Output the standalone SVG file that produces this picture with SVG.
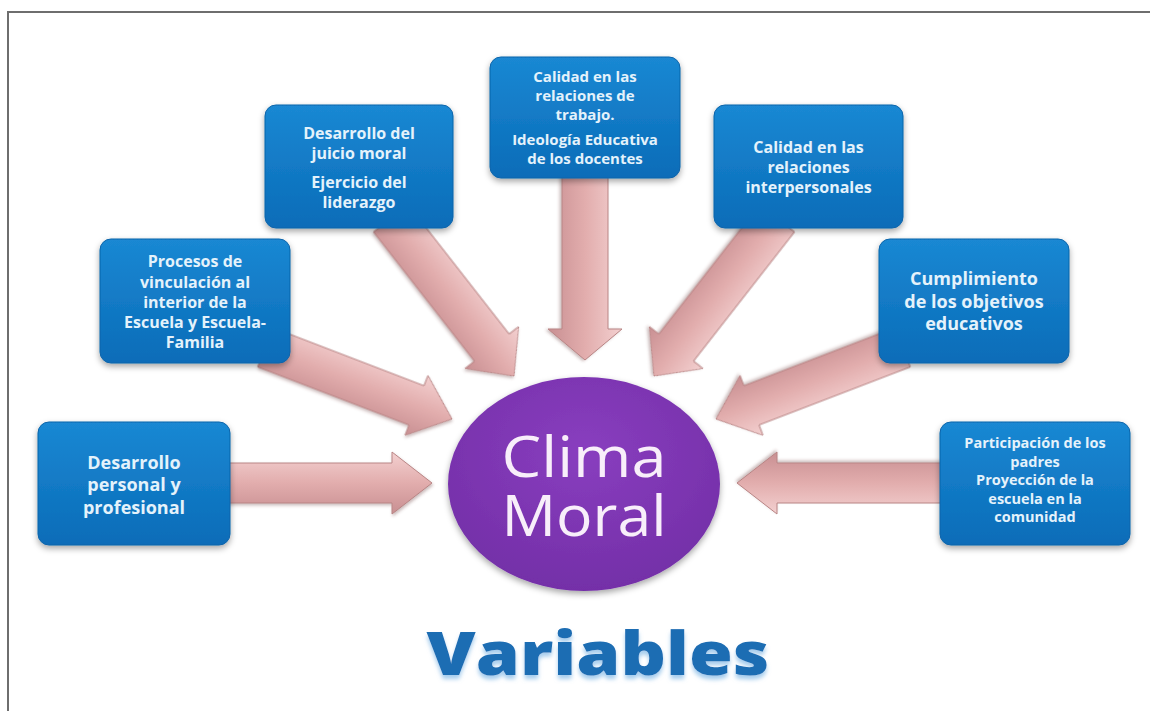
<svg xmlns="http://www.w3.org/2000/svg" width="1150" height="711" viewBox="0 0 1150 711">
  <defs>
    <linearGradient id="gBox" x1="0" y1="0" x2="0" y2="1">
      <stop offset="0" stop-color="#1a88d3"/>
      <stop offset="1" stop-color="#0a6cb8"/>
    </linearGradient>
    <linearGradient id="gArrow" x1="0" y1="0" x2="0" y2="1">
      <stop offset="0" stop-color="#f3d0d0"/>
      <stop offset="0.5" stop-color="#e2adad"/>
      <stop offset="1" stop-color="#c88f92"/>
    </linearGradient>
    <radialGradient id="gEll" cx="0.5" cy="0.35" r="0.7">
      <stop offset="0" stop-color="#893ebf"/>
      <stop offset="1" stop-color="#722ea6"/>
    </radialGradient>
    <filter id="shadow" x="-20%" y="-20%" width="140%" height="150%">
      <feDropShadow dx="0" dy="3" stdDeviation="3" flood-color="#000" flood-opacity="0.35"/>
    </filter>
    <filter id="ashadow" x="-20%" y="-30%" width="140%" height="160%">
      <feDropShadow dx="1" dy="2" stdDeviation="1.5" flood-color="#704040" flood-opacity="0.35"/>
    </filter>
    <filter id="tshadow" x="-10%" y="-20%" width="120%" height="160%">
      <feDropShadow dx="0" dy="4" stdDeviation="2" flood-color="#8fc0e8" flood-opacity="0.8"/>
    </filter>
  </defs>
  <style>
    .box { fill: url(#gBox); stroke: #0b64aa; stroke-width: 1; filter: url(#shadow); }
    .bt { font-family: "Open Sans", "Liberation Sans", sans-serif; font-weight: 700; fill: #e4f2fb; text-anchor: middle; }
    .arrow { fill: url(#gArrow); stroke: #b98585; stroke-width: 1; filter: url(#ashadow); }
    .center { font-family: "Open Sans", "Liberation Sans", sans-serif; font-size: 56px; fill: #f8eefa; text-anchor: middle; }
  </style>
  <rect width="1150" height="711" fill="#ffffff"/>
  <path d="M8,711 V12 H1150" fill="none" stroke="#6e6e6e" stroke-width="2"/>

  <g id="connectors">
    <path class="arrow" transform="translate(432,483)" d="M-240,-20 L-40,-20 L-40,-31 L0,0 L-40,31 L-40,20 L-240,20 Z"/>
    <path class="arrow" transform="translate(452,419) rotate(21)" d="M-200,-21 L-38,-21 L-38,-32 L0,0 L-38,32 L-38,21 L-200,21 Z"/>
    <path class="arrow" transform="translate(514,376) rotate(52)" d="M-200,-22 L-36,-22 L-36,-34 L0,0 L-36,34 L-36,22 L-200,22 Z"/>
    <path class="arrow" transform="translate(585,360) rotate(90)" d="M-190,-23 L-31,-23 L-31,-37 L0,0 L-31,37 L-31,23 L-190,23 Z"/>
    <path class="arrow" transform="translate(654,376) rotate(128)" d="M-200,-22 L-36,-22 L-36,-34 L0,0 L-36,34 L-36,22 L-200,22 Z"/>
    <path class="arrow" transform="translate(716,419) rotate(159)" d="M-200,-21 L-38,-21 L-38,-32 L0,0 L-38,32 L-38,21 L-200,21 Z"/>
    <path class="arrow" transform="translate(737,483) rotate(180)" d="M-240,-20 L-40,-20 L-40,-31 L0,0 L-40,31 L-40,20 L-240,20 Z"/>
  </g>

  <g id="node-desarrollo-personal">
    <rect class="box" x="38" y="422" width="192" height="123" rx="11"/>
    <text class="bt" font-size="18"><tspan x="134" y="469">Desarrollo</tspan><tspan x="134" y="491">personal y</tspan><tspan x="134" y="514">profesional</tspan></text>
  </g>
  <g id="node-procesos">
    <rect class="box" x="100" y="239" width="190" height="124" rx="11"/>
    <text class="bt" font-size="16"><tspan x="195" y="267">Procesos de</tspan><tspan x="195" y="288">vinculación al</tspan><tspan x="195" y="308">interior de la</tspan><tspan x="195" y="328">Escuela y Escuela-</tspan><tspan x="195" y="348">Familia</tspan></text>
  </g>
  <g id="node-juicio">
    <rect class="box" x="265" y="105" width="188" height="123" rx="11"/>
    <text class="bt" font-size="16"><tspan x="359" y="139">Desarrollo del</tspan><tspan x="359" y="159">juicio moral</tspan><tspan x="359" y="188">Ejercicio del</tspan><tspan x="359" y="208">liderazgo</tspan></text>
  </g>
  <g id="node-trabajo">
    <rect class="box" x="490" y="57" width="190" height="121" rx="11"/>
    <text class="bt" font-size="15"><tspan x="585" y="82">Calidad en las</tspan><tspan x="585" y="101">relaciones de</tspan><tspan x="585" y="120">trabajo.</tspan><tspan x="585" y="145">Ideología Educativa</tspan><tspan x="585" y="164">de los docentes</tspan></text>
  </g>
  <g id="node-interpersonales">
    <rect class="box" x="714" y="105" width="189" height="123" rx="11"/>
    <text class="bt" font-size="16"><tspan x="808.5" y="153">Calidad en las</tspan><tspan x="808.5" y="173">relaciones</tspan><tspan x="808.5" y="193">interpersonales</tspan></text>
  </g>
  <g id="node-objetivos">
    <rect class="box" x="879" y="239" width="190" height="124" rx="11"/>
    <text class="bt" font-size="18"><tspan x="974" y="285">Cumplimiento</tspan><tspan x="974" y="308">de los objetivos</tspan><tspan x="974" y="330">educativos</tspan></text>
  </g>
  <g id="node-padres">
    <rect class="box" x="940" y="422" width="190" height="123" rx="11"/>
    <text class="bt" font-size="14.5"><tspan x="1035" y="448">Participación de los</tspan><tspan x="1035" y="467">padres</tspan><tspan x="1035" y="485">Proyección de la</tspan><tspan x="1035" y="504">escuela en la</tspan><tspan x="1035" y="522">comunidad</tspan></text>
  </g>

  <g id="node-clima-moral">
    <ellipse cx="584" cy="484" rx="136" ry="107" fill="url(#gEll)" filter="url(#shadow)"/>
    <text class="center" x="584" y="477" textLength="165" lengthAdjust="spacingAndGlyphs">Clima</text>
    <text class="center" x="584" y="536" textLength="165" lengthAdjust="spacingAndGlyphs">Moral</text>
  </g>

  <g id="title">
    <text x="598" y="675" font-family="Open Sans, Liberation Sans, sans-serif" font-weight="800" font-size="60" fill="#1c6db3" text-anchor="middle" textLength="343" lengthAdjust="spacingAndGlyphs" filter="url(#tshadow)">Variables</text>
  </g>
</svg>
